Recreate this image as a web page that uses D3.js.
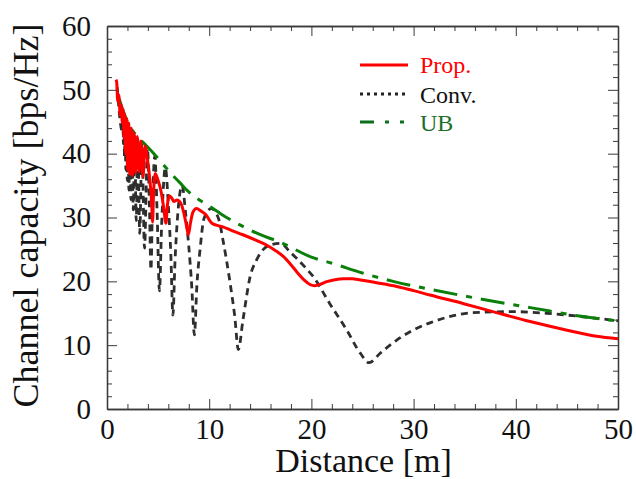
<!DOCTYPE html>
<html>
<head>
<meta charset="utf-8">
<script src="https://cdn.jsdelivr.net/npm/d3@7"></script>
<style>
  html, body { margin: 0; padding: 0; background: #fff; }
  svg { display: block; }
  svg text { font-family: "Liberation Serif", "Times New Roman", Times, serif; }
</style>
</head>
<body>
<svg id="chart" width="636" height="479"></svg>
<script>
// ---- data -------------------------------------------------------------
const xTickValues = [0, 10, 20, 30, 40, 50];
const yTickValues = [0, 10, 20, 30, 40, 50, 60];
const seriesNames = ["Prop.", "Conv.", "UB"];

// Upper bound [distance m, capacity bps/Hz]
const ubPoints = [
  [1.2, 48.6], [1.6, 46.6], [2.0, 45.0], [2.5, 43.6], [3.0, 42.6], [3.5, 41.8],
  [4.0, 41.0], [4.7, 39.8], [5.5, 38.3], [6.2, 37.0], [7.1, 35.5], [8.0, 34.0],
  [8.8, 33.0], [10.0, 31.8], [11.5, 30.2], [13.3, 28.6], [15.0, 27.3], [17.0, 26.1],
  [20.0, 23.8], [22.1, 22.8], [25.0, 21.3], [28.0, 20.0], [31.6, 18.75], [36.7, 17.2],
  [41.7, 15.8], [46.9, 14.4], [50.0, 13.8]
];

// Conventional scheme
const convPoints = [
  [1.0, 50.4], [1.5, 43.5], [1.55, 46.9], [1.6, 41.5], [1.65, 46.4], [1.71, 39.5],
  [1.77, 45.7], [1.84, 37.5], [1.91, 45.1], [1.98, 35.8], [2.06, 44.5], [2.14, 34.3],
  [2.24, 43.8], [2.34, 32.8], [2.45, 43.2], [2.57, 31.2], [2.71, 42.8], [2.86, 29.5],
  [3.02, 42.3], [3.2, 27.5], [3.42, 41.6], [3.67, 25.2], [3.96, 40.8],
  [4.15, 32.0], [4.3, 21.8], [4.45, 32.0], [4.68, 39.6],
  [4.9, 31.0], [5.13, 18.5], [5.35, 29.0], [5.71, 37.8],
  [6.0, 32.0], [6.25, 24.0], [6.45, 14.7], [6.65, 23.0], [6.9, 30.0], [7.35, 35.0],
  [7.7, 30.5], [8.0, 25.5], [8.3, 19.0], [8.55, 11.6], [8.8, 19.5], [9.1, 24.9],
  [9.5, 29.9], [10.2, 31.4], [10.9, 29.9], [11.4, 26.0], [12.0, 20.2], [12.5, 14.5],
  [12.85, 9.3], [13.3, 13.9], [14.0, 20.7], [14.65, 23.4], [15.3, 25.0], [16.0, 25.7],
  [17.0, 25.95], [17.9, 24.6], [18.56, 23.6], [19.5, 22.0], [20.2, 20.7], [21.8, 16.5],
  [23.45, 12.4], [24.8, 8.7], [25.65, 7.25], [26.7, 8.7], [28.35, 10.8], [30.0, 12.4],
  [31.6, 13.5], [33.6, 14.5], [35.8, 15.1], [39.8, 15.25], [43.0, 15.0], [46.3, 14.5],
  [50.0, 13.8]
];

// Proposed scheme
const propPoints = [
  [0.88, 51.6], [0.95, 51.2], [1.05, 48.2], [1.15, 49.2], [1.3, 46.0], [1.4, 47.6],
  [1.5, 44.8], [1.58, 46.9], [1.66, 42.5], [1.74, 46.2], [1.83, 40.0], [1.92, 45.5],
  [2.02, 37.5], [2.12, 44.8], [2.24, 36.8], [2.36, 44.0], [2.5, 36.6], [2.64, 43.3],
  [2.8, 37.0], [2.96, 42.7], [3.14, 37.2], [3.32, 42.0], [3.52, 36.4], [3.72, 41.2],
  [3.95, 39.2], [4.2, 35.8], [4.38, 32.0], [4.46, 29.3], [4.55, 33.5], [4.72, 36.9],
  [5.0, 35.8], [5.3, 34.0], [5.55, 31.5], [5.77, 29.1], [5.9, 31.8], [6.1, 33.4],
  [6.35, 33.0], [6.55, 32.5], [6.85, 32.75], [7.2, 32.3], [7.55, 30.5], [7.8, 28.5],
  [7.96, 27.3], [8.15, 29.0], [8.4, 30.8], [8.75, 31.4], [9.2, 31.0], [9.7, 30.4],
  [10.2, 29.2], [10.7, 28.8], [11.4, 28.5], [12.0, 28.1], [13.3, 27.3], [14.5, 26.5],
  [15.6, 25.7], [16.5, 24.8], [17.25, 23.9], [18.0, 22.6], [18.56, 21.5], [19.3, 20.2],
  [19.86, 19.5], [20.3, 19.3], [20.8, 19.5], [21.5, 19.95], [22.3, 20.25], [23.1, 20.4],
  [24.0, 20.4], [24.8, 20.2], [26.5, 19.75], [28.35, 19.2], [30.0, 18.55], [31.6, 17.85],
  [34.9, 16.5], [38.1, 15.1], [41.4, 13.7], [44.6, 12.5], [47.9, 11.4], [50.0, 11.0]
];

// ---- layout -----------------------------------------------------------
const plot = { left: 107, right: 618, top: 26, bottom: 409 };
const axisColor = "#3a3a3a";
const serif = '"Liberation Serif", "Times New Roman", Times, serif';

const svg = d3.select("#chart");

const x = d3.scaleLinear().domain([0, 50]).range([plot.left, plot.right]);
const y = d3.scaleLinear().domain([0, 60]).range([plot.bottom, plot.top]);

const xMinor = x.ticks(25).filter(v => v % 10 !== 0);
const yMinor = y.ticks(30).filter(v => v % 10 !== 0);

// clip for the curves
svg.append("defs").append("clipPath").attr("id", "plotClip")
  .append("rect")
  .attr("x", plot.left).attr("y", plot.top)
  .attr("width", plot.right - plot.left).attr("height", plot.bottom - plot.top);

// ---- curves -----------------------------------------------------------
const line = d3.line()
  .x(d => x(d[0]))
  .y(d => y(d[1]))
  .curve(d3.curveMonotoneX);

const curves = svg.append("g").attr("clip-path", "url(#plotClip)");

curves.append("path").datum(convPoints)
  .attr("d", line)
  .attr("fill", "none")
  .attr("stroke", "#2e2e2e")
  .attr("stroke-width", 2.8)
  .attr("stroke-dasharray", "7,5");

curves.append("path").datum(ubPoints)
  .attr("d", line)
  .attr("fill", "none")
  .attr("stroke", "#0a7f0a")
  .attr("stroke-width", 3)
  .attr("stroke-dasharray", "24,9,6,9");

curves.append("path").datum(propPoints)
  .attr("d", line)
  .attr("fill", "none")
  .attr("stroke", "#ff0000")
  .attr("stroke-width", 3)
  .attr("stroke-linejoin", "round");

// ---- axes (ticks point inward on all four sides) ----------------------
function styleAxis(g) {
  g.attr("font-family", serif);
  g.select(".domain").attr("stroke", axisColor).attr("stroke-width", 1.3);
  g.selectAll(".tick line").attr("stroke", axisColor).attr("stroke-width", 1);
  g.selectAll(".tick text")
    .attr("fill", "#111")
    .style("font-family", serif)
    .attr("font-size", 29);
}

// bottom
svg.append("g").attr("transform", `translate(0,${plot.bottom})`)
  .call(d3.axisBottom(x).tickValues(xTickValues).tickSizeInner(-10).tickSizeOuter(0).tickPadding(9))
  .call(styleAxis);
svg.append("g").attr("transform", `translate(0,${plot.bottom})`)
  .call(d3.axisBottom(x).tickValues(xMinor).tickSizeInner(-5).tickSizeOuter(0).tickFormat(""))
  .call(styleAxis);
// top
svg.append("g").attr("transform", `translate(0,${plot.top})`)
  .call(d3.axisTop(x).tickValues(xTickValues).tickSizeInner(-10).tickSizeOuter(0).tickFormat(""))
  .call(styleAxis);
svg.append("g").attr("transform", `translate(0,${plot.top})`)
  .call(d3.axisTop(x).tickValues(xMinor).tickSizeInner(-5).tickSizeOuter(0).tickFormat(""))
  .call(styleAxis);
// left
svg.append("g").attr("transform", `translate(${plot.left},0)`)
  .call(d3.axisLeft(y).tickValues(yTickValues).tickSizeInner(-10).tickSizeOuter(0).tickPadding(16))
  .call(styleAxis);
svg.append("g").attr("transform", `translate(${plot.left},0)`)
  .call(d3.axisLeft(y).tickValues(yMinor).tickSizeInner(-5).tickSizeOuter(0).tickFormat(""))
  .call(styleAxis);
// right
svg.append("g").attr("transform", `translate(${plot.right},0)`)
  .call(d3.axisRight(y).tickValues(yTickValues).tickSizeInner(-10).tickSizeOuter(0).tickFormat(""))
  .call(styleAxis);
svg.append("g").attr("transform", `translate(${plot.right},0)`)
  .call(d3.axisRight(y).tickValues(yMinor).tickSizeInner(-5).tickSizeOuter(0).tickFormat(""))
  .call(styleAxis);

// ---- axis titles ------------------------------------------------------
svg.append("text")
  .attr("x", (plot.left + plot.right) / 2 + 1)
  .attr("y", 472)
  .attr("text-anchor", "middle")
  .attr("font-size", 34)
  .attr("fill", "#111")
  .text("Distance [m]");

svg.append("text")
  .attr("transform", `translate(38,${(plot.top + plot.bottom) / 2 - 2}) rotate(-90)`)
  .attr("text-anchor", "middle")
  .attr("font-size", 36)
  .attr("fill", "#111")
  .text("Channel capacity [bps/Hz]");

// ---- legend -----------------------------------------------------------
const legendItems = [
  { name: seriesNames[0], color: "#ff0000", text: "#ff0000", dash: null,           lineY: 65,  textY: 73 },
  { name: seriesNames[1], color: "#222",    text: "#111",    dash: "3,4",          lineY: 94,  textY: 102.5 },
  { name: seriesNames[2], color: "#0a6e1a", text: "#1d6e2a", dash: "14,11,4,11,4", lineY: 122, textY: 130.5 }
];

const legend = svg.append("g");
legendItems.forEach(it => {
  legend.append("line")
    .attr("x1", 360).attr("x2", 408)
    .attr("y1", it.lineY).attr("y2", it.lineY)
    .attr("stroke", it.color)
    .attr("stroke-width", 3)
    .attr("stroke-dasharray", it.dash);
  legend.append("text")
    .attr("x", 420).attr("y", it.textY)
    .attr("font-size", 24)
    .attr("fill", it.text)
    .text(it.name);
});
</script>
</body>
</html>
